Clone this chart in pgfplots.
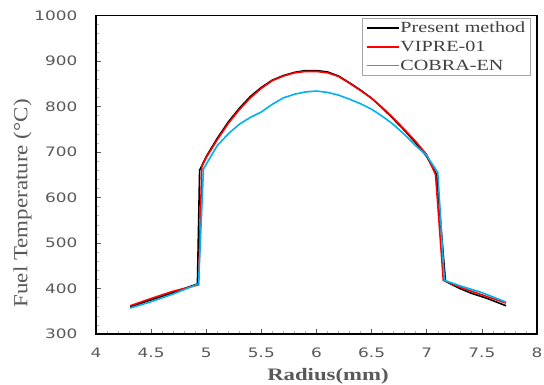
\documentclass[border=0pt]{standalone}
\usepackage{fontspec}
\usepackage{pgfplots}
\pgfplotsset{compat=1.18}
\newfontfamily\tickfont[FakeStretch=1.3]{DejaVu Sans}
\newfontfamily\labfont[FakeStretch=1.3]{Liberation Serif}
\newfontfamily\ylabfont[FakeStretch=1.15]{Liberation Serif}
\definecolor{tickgray}{HTML}{595959}
\definecolor{legtext}{HTML}{404040}
\definecolor{cobra}{RGB}{0,176,240}
\begin{document}
\begin{tikzpicture}
\useasboundingbox (-96pt,-51pt) rectangle (448pt,334pt);
\begin{axis}[at={(0pt,0pt)}, anchor=south west, scale only axis,
  width=441pt, height=318.5pt,
  xmin=4, xmax=8, ymin=300, ymax=1000,
  xtick={4,4.5,5,5.5,6,6.5,7,7.5,8},
  ytick={300,400,500,600,700,800,900,1000},
  minor x tick num=4, minor y tick num=4,
  tick align=inside, tick pos=left,
  major tick length=5pt, minor tick length=3pt,
  tick style={tickgray, line width=0.6pt},
  minor tick style={black!30, line width=0.5pt},
  axis line style={black, line width=1.3pt},
  /pgf/number format/assume math mode=true,
  /pgf/number format/1000 sep={},
  ticklabel style={font=\tickfont\fontsize{13}{15}\selectfont, text=tickgray},
  yticklabel style={xshift=-15pt},
  xticklabel style={yshift=-10.5pt},
  xlabel={Radius(mm)},
  xlabel style={at={(axis description cs:0.526,-0.132)}, anchor=center,
    font=\labfont\bfseries\fontsize{17.5}{20}\selectfont, text=tickgray},
  ylabel={Fuel Temperature (°C)},
  ylabel style={at={(axis description cs:-0.1667,0.41)}, anchor=center, rotate=0,
    font=\ylabfont\fontsize{20}{22}\selectfont, text=tickgray},
  legend style={at={(axis description cs:0.984,0.992)}, anchor=north east,
    draw=gray!70, fill=white,
    font=\labfont\fontsize{15.5}{17}\selectfont,
    inner xsep=4pt, inner ysep=1.5pt, row sep=3pt,
    nodes={inner xsep=0.5pt, inner ysep=2pt}},
  legend cell align=left,
  legend image code/.code={\draw[mark repeat=2,mark phase=2] plot coordinates {(0pt,0pt) (16pt,0pt) (32pt,0pt)};},
]
\addplot[black, line width=1.6pt, mark=none] table {
4.31 360
4.5 375
4.7 391
4.92 410
4.94 660
5.0 690
5.1 730
5.2 766
5.3 796
5.4 822
5.5 842
5.6 858
5.7 868
5.8 875
5.9 879
6.0 879
6.1 876
6.2 867
6.3 852
6.4 836
6.5 818
6.6 796
6.7 772
6.8 747
6.9 720
7.0 690
7.09 650
7.17 416
7.3 400
7.4 390
7.55 378
7.72 362
};
\addlegendentry{\textcolor{legtext}{Present method}}
\addplot[red, line width=1.6pt, mark=none] table {
4.31 362
4.5 378
4.7 394
4.93 408
4.96 668
5.0 688
5.1 727
5.2 763
5.3 793
5.4 819
5.5 840
5.6 857
5.7 867
5.8 874
5.9 877
6.0 877
6.1 874
6.2 866
6.3 851
6.4 835
6.5 818
6.6 797
6.7 774
6.8 749
6.9 723
7.0 694
7.08 650
7.15 418
7.3 403
7.5 386
7.72 368
};
\addlegendentry{\textcolor{legtext}{VIPRE-01}}
\addplot[cobra, line width=1.6pt, mark=none] table {
4.31 357
4.5 371
4.7 388
4.93 410
4.975 663
5.1 714
5.2 740
5.3 761
5.4 776
5.5 788
5.6 805
5.7 819
5.8 827
5.9 832
6.0 834
6.1 831
6.2 825
6.3 816
6.4 806
6.5 794
6.6 778
6.7 760
6.8 738
6.9 714
7.0 692
7.1 655
7.16 418
7.3 406
7.5 391
7.72 370
};
\addlegendentry{\textcolor{legtext}{COBRA-EN}}
\end{axis}
\end{tikzpicture}
\end{document}
